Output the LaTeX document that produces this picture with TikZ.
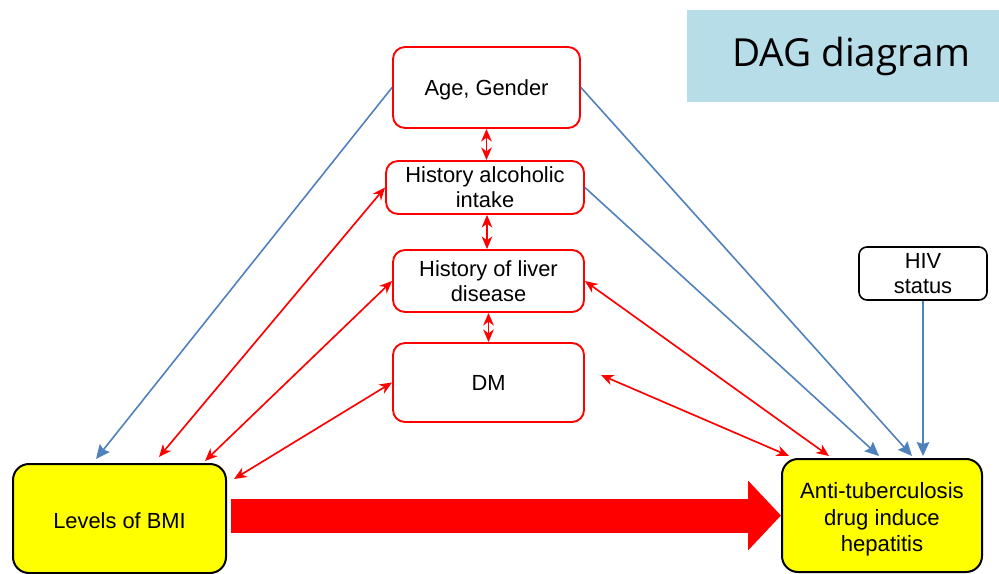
\documentclass[tikz,border=0pt]{standalone}
\usepackage{fontspec}
\setmainfont{Liberation Sans}
\newfontfamily\titlefont{Open Sans}
\usetikzlibrary{arrows.meta,calc}
\definecolor{dagred}{HTML}{FF0000}
\definecolor{dagblue}{HTML}{4F81BD}
\definecolor{dagyellow}{HTML}{FFFF00}
\definecolor{dagtitle}{HTML}{B7DDE8}
\begin{document}
\begin{tikzpicture}[x=0.75pt,y=-0.75pt,
  txt/.style={align=center,inner sep=0pt,font=\fontsize{16.4pt}{19pt}\selectfont},
  redbox/.style={txt,draw=dagred,line width=1.4pt,rounded corners=9pt,fill=white},
  yelbox/.style={txt,draw=black,line width=1.5pt,rounded corners=12pt,fill=dagyellow},
  blkbox/.style={txt,draw=black,line width=1.2pt,rounded corners=6pt,fill=white},
  redcon/.style={draw=dagred,line width=1.25pt,{Stealth[length=9.5pt,width=8pt,inset=3pt]}-{Stealth[length=9.5pt,width=8pt,inset=3pt]}},
  bluecon/.style={draw=dagblue,line width=1.2pt,-{Stealth[length=10.5pt,width=9.5pt,inset=1.5pt]}},
  bigarrow/.style={draw=dagred,line width=25.5pt,-{Triangle[length=24.75pt,width=51pt]}}
]
\useasboundingbox (0,0) rectangle (999,574);

\node[fill=dagtitle,minimum width=234pt,minimum height=69pt,inner sep=0pt,font=\titlefont\fontsize{29pt}{36pt}\selectfont] (title) at (843,56) {\hspace*{12pt}DAG diagram};

\node[redbox,minimum width=140.25pt,minimum height=60.75pt] (age) at (486.5,87.5) {\rule{0pt}{15pt}Age, Gender};
\node[redbox,minimum width=148.5pt,minimum height=39.75pt] (alc) at (485,187.5) {History alcoholic\\intake};
\node[redbox,minimum width=143.25pt,minimum height=46.5pt] (liver) at (488.5,281) {History of liver\\disease};
\node[redbox,minimum width=143.25pt,minimum height=59.25pt] (dm) at (488.5,382.5) {DM};

\node[yelbox,minimum width=159.75pt,minimum height=81.75pt] (bmi) at (119.5,518.5) {\rule{0pt}{15pt}Levels of BMI};
\node[yelbox,minimum width=150pt,minimum height=84.75pt,font=\fontsize{16.6pt}{20pt}\selectfont] (atb) at (882,515.5) {\rule{0pt}{18pt}Anti-tuberculosis\\drug induce\\hepatitis};
\node[blkbox,minimum width=96pt,minimum height=39.75pt] (hiv) at (923,273.5) {HIV\\status};

\coordinate (dmfree) at ($(dm.east)+(16,-7.5)$);

% blue connectors
\draw[bluecon] (age.west) -- ($(bmi.north west)+(84,-4)$);
\draw[bluecon] (age.east) -- ($(atb.north west)+(131,-2)$);
\draw[bluecon] (alc.east) -- ($(atb.north west)+(98,-2)$);
\draw[bluecon] (hiv.south) -- ($(hiv.south |- atb.north)+(0,-2)$);

% red connectors
\draw[redcon] (age.south) -- (age.south |- alc.north);
\draw[redcon] ($(alc.south)+(2,0)$) -- ($(liver.north)+(-1.5,0)$);
\draw[redcon] (liver.south) -- (dm.north);
\draw[redcon] (alc.west) -- ($(bmi.north west)+(147,-6)$);
\draw[redcon] (liver.west) -- ($(bmi.north west)+(193,-2)$);
\draw[redcon] (dm.west) -- ($(bmi.north east)+(7,16)$);
\draw[redcon] (liver.east) -- ($(atb.north west)+(48,-2)$);
\draw[redcon] (dmfree) -- ($(atb.north west)+(8,-2)$);

% big arrow
\draw[bigarrow,shorten <=3pt] (bmi.east |- atb.west) -- (atb.west);
\end{tikzpicture}
\end{document}
